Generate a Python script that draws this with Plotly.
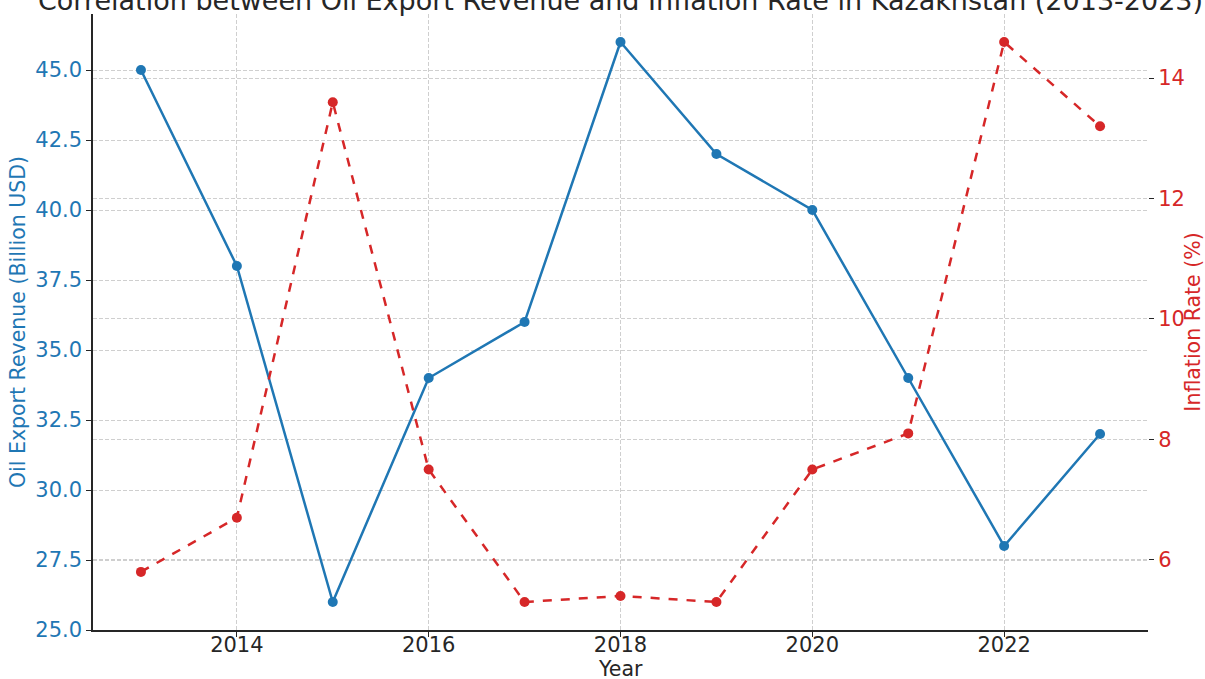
import plotly.graph_objects as go

years = [2013, 2014, 2015, 2016, 2017, 2018, 2019, 2020, 2021, 2022, 2023]
oil_revenue = [45, 38, 26, 34, 36, 46, 42, 40, 34, 28, 32]
inflation = [5.8, 6.7, 13.6, 7.5, 5.3, 5.4, 5.3, 7.5, 8.1, 14.6, 13.2]

blue = "#1f77b4"
red = "#d62728"
font_family = "DejaVu Sans"
label_size = 20.5

fig = go.Figure()

fig.add_trace(go.Scatter(
    x=years, y=oil_revenue, mode="lines+markers",
    line=dict(color=blue, width=2.5),
    marker=dict(color=blue, size=10),
    name="Oil Export Revenue", yaxis="y",
))
fig.add_trace(go.Scatter(
    x=years, y=inflation, mode="lines+markers",
    line=dict(color=red, width=2.5, dash="dash"),
    marker=dict(color=red, size=10),
    name="Inflation Rate", yaxis="y2",
))

grid = dict(showgrid=True, gridcolor="#cfcfcf", griddash="4px,2px", gridwidth=1)

fig.update_layout(
    width=1205, height=679,
    margin=dict(l=93, r=57, t=14, b=49),
    paper_bgcolor="white", plot_bgcolor="white",
    showlegend=False,
    font=dict(family=font_family, size=21, color="#262626"),
    title=dict(
        text="Correlation between Oil Export Revenue and Inflation Rate in Kazakhstan (2013-2023)",
        x=(93 + 1148) / 2 / 1205, xanchor="center",
        y=1 - 1 / 679, yanchor="middle", yref="container",
        font=dict(size=27, color="#262626"),
    ),
    xaxis=dict(
        range=[2012.5, 2023.5],
        tickvals=[2014, 2016, 2018, 2020, 2022],
        tickfont=dict(size=21),
        ticklabelstandoff=-10,
        showline=True, linecolor="#262626", linewidth=1.5,
        ticks="outside", ticklen=5, tickcolor="#262626",
        zeroline=False, automargin=False, **grid,
    ),
    yaxis=dict(
        range=[25, 47],
        tickvals=[25, 27.5, 30, 32.5, 35, 37.5, 40, 42.5, 45],
        tickformat=".1f",
        tickfont=dict(color=blue, size=21),
        title=dict(text="Oil Export Revenue (Billion USD)",
                   font=dict(color=blue, size=label_size), standoff=4),
        showline=True, linecolor="#262626", linewidth=1.5,
        ticks="outside", ticklen=5, tickcolor="#262626",
        zeroline=False, automargin=False, **grid,
    ),
    yaxis2=dict(
        range=[4.835, 15.065],
        tickvals=[6, 8, 10, 12, 14],
        overlaying="y", side="right",
        tickfont=dict(color=red, size=21),
        title=dict(text="Inflation Rate (%)",
                   font=dict(color=red, size=label_size), standoff=8),
        showline=False,
        ticks="outside", ticklen=5, tickcolor="#262626",
        zeroline=False, automargin=False, **grid,
    ),
    # x-axis title placed just below the tick labels
    annotations=[dict(
        text="Year", xref="paper", yref="paper",
        x=0.5, y=0, showarrow=False,
        xanchor="center", yanchor="middle",
        yshift=-39, font=dict(size=label_size, color="#262626"),
    )],
)

fig.write_html("out.html")
